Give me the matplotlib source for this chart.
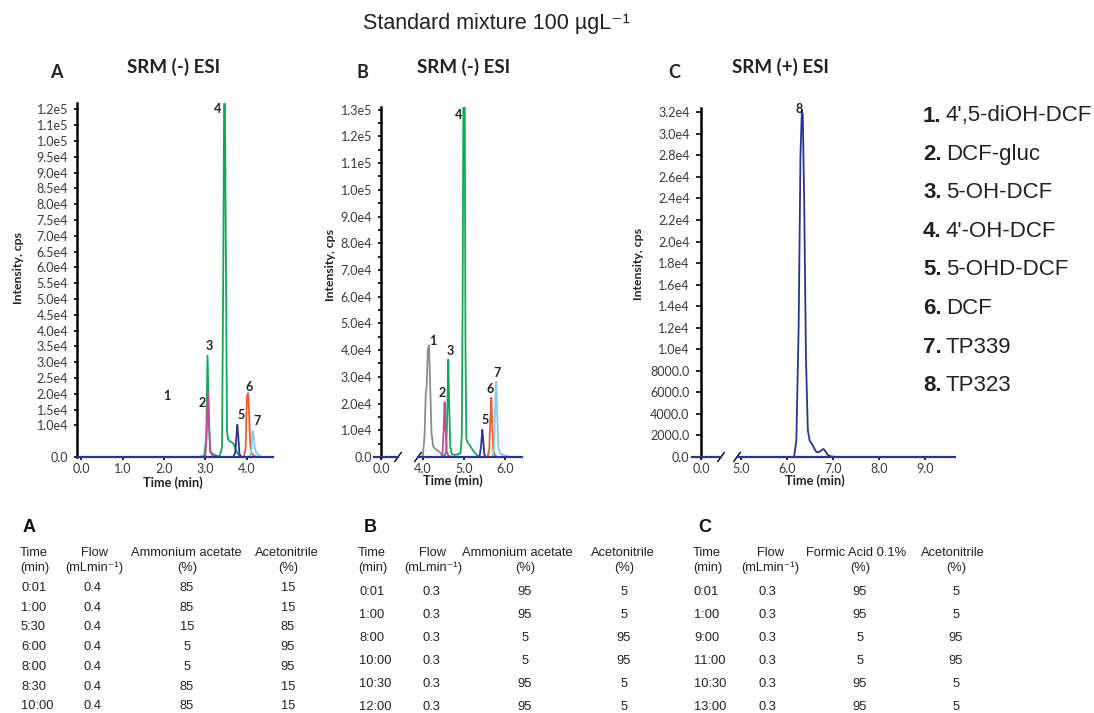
import matplotlib
matplotlib.use("Agg")
import matplotlib.pyplot as plt
from matplotlib.ticker import FixedLocator

# ---------------- data ----------------
# Panel A chromatogram (time in min, intensity in axis units)
A_t2 = [2.93, 3.00, 3.03, 3.06, 3.09, 3.12, 3.17, 3.23]
A_i2 = [0, 300, 8000, 20500, 9000, 1500, 500, 0]
A_t34 = [2.83, 2.97, 3.02, 3.05, 3.08, 3.11, 3.15, 3.21, 3.27, 3.34, 3.40, 3.43,
         3.45, 3.47, 3.49, 3.52, 3.55, 3.59, 3.63, 3.68, 3.72, 3.77, 3.83, 3.91]
A_i34 = [0, 300, 6000, 32000, 14000, 2000, 1200, 800, 400, 200, 3000, 60000,
         111700, 111700, 70000, 8000, 5500, 5000, 4700, 4200, 2800, 1200, 300, 0]
A_t5 = [3.67, 3.72, 3.75, 3.77, 3.79, 3.82, 3.86]
A_i5 = [0, 1500, 7000, 10200, 7000, 1000, 0]
A_t6 = [3.93, 3.97, 4.00, 4.03, 4.05, 4.08, 4.11, 4.17, 4.23]
A_i6 = [0, 3000, 19000, 20200, 15000, 4000, 1200, 400, 0]
A_t7 = [4.07, 4.11, 4.14, 4.16, 4.19, 4.23, 4.29, 4.37]
A_i7 = [0, 2500, 8300, 7000, 3000, 1200, 400, 0]
A_yticks = [0, 10000, 15000, 20000, 25000, 30000, 35000, 40000, 45000, 50000,
            55000, 60000, 65000, 70000, 75000, 80000, 85000, 90000, 95000,
            100000, 105000, 110000]
A_ylabels = ["0.0", "1.0e4", "1.5e4", "2.0e4", "2.5e4", "3.0e4", "3.5e4", "4.0e4",
             "4.5e4", "5.0e4", "5.5e4", "6.0e4", "6.5e4", "7.0e4", "7.5e4", "8.0e4",
             "8.5e4", "9.0e4", "9.5e4", "1.0e5", "1.1e5", "1.2e5"]
A_xticks = [0, 1, 2, 3, 4]
A_peak_ids = ["1", "2", "3", "4", "5", "6", "7"]
A_lab_t = [2.07, 2.92, 3.09, 3.30, 3.87, 4.06, 4.25]
A_lab_i = [19200, 17000, 35000, 110000, 13300, 22100, 11400]

# Panel B chromatogram
B_t1 = [3.95, 4.00, 4.04, 4.07, 4.09, 4.12, 4.15, 4.18, 4.21, 4.25, 4.30, 4.38, 4.46, 4.55]
B_i1 = [0, 500, 8000, 24000, 26000, 40000, 41800, 25000, 9000, 4000, 3000, 2200, 1000, 0]
B_t2 = [4.44, 4.48, 4.51, 4.53, 4.55, 4.58, 4.62, 4.70]
B_i2 = [0, 1500, 12000, 20500, 11000, 2000, 500, 0]
B_t34 = [4.52, 4.57, 4.60, 4.62, 4.64, 4.67, 4.71, 4.78, 4.86, 4.92, 4.95, 4.97,
         4.99, 5.02, 5.04, 5.06, 5.09, 5.14, 5.20, 5.27, 5.34, 5.42]
B_i34 = [0, 2000, 20000, 36500, 20000, 3500, 1000, 800, 1000, 1500, 8000, 60000,
         140000, 140000, 40000, 7000, 5500, 4500, 3000, 1500, 400, 0]
B_t5 = [5.38, 5.42, 5.45, 5.47, 5.50, 5.54]
B_i5 = [0, 4000, 10200, 7000, 1000, 0]
B_t6 = [5.58, 5.62, 5.65, 5.67, 5.69, 5.72, 5.76, 5.82]
B_i6 = [0, 3000, 15000, 22200, 14000, 2500, 500, 0]
B_t7 = [5.70, 5.74, 5.77, 5.79, 5.81, 5.84, 5.88, 5.95, 6.05, 6.12]
B_i7 = [0, 3500, 22000, 28200, 18000, 4000, 1500, 800, 400, 0]
B_yticks = [0, 10000, 20000, 30000, 40000, 50000, 60000, 70000, 80000, 90000,
            100000, 110000, 120000, 130000]
B_ylabels = ["0.0", "1.0e4", "2.0e4", "3.0e4", "4.0e4", "5.0e4", "6.0e4", "7.0e4",
             "8.0e4", "9.0e4", "1.0e5", "1.1e5", "1.2e5", "1.3e5"]
B_xticks_left = [0]
B_xticks_right = [4, 5, 6]
B_peak_ids = ["1", "2", "3", "4", "5", "6", "7"]
B_lab_t = [4.24, 4.48, 4.67, 4.87, 5.52, 5.64, 5.81]
B_lab_i = [43500, 23800, 39800, 128000, 13800, 25600, 31600]

# Panel C chromatogram
C_t8 = [4.91, 6.15, 6.20, 6.25, 6.29, 6.32, 6.34, 6.37, 6.41, 6.45, 6.49, 6.54, 6.59,
        6.64, 6.69, 6.74, 6.79, 6.83, 6.88, 6.95, 7.05, 9.65]
C_i8 = [0, 0, 1500, 12000, 28000, 32200, 31800, 24000, 9000, 2500, 1500, 1200, 800,
        450, 450, 600, 750, 550, 200, 60, 0, 0]
C_yticks = [0, 2000, 4000, 6000, 8000, 10000, 12000, 14000, 16000, 18000, 20000,
            22000, 24000, 26000, 28000, 30000, 32000]
C_ylabels = ["0.0", "2000.0", "4000.0", "6000.0", "8000.0", "1.0e4", "1.2e4", "1.4e4",
             "1.6e4", "1.8e4", "2.0e4", "2.2e4", "2.4e4", "2.6e4", "2.8e4", "3.0e4",
             "3.2e4"]
C_xticks_left = [0]
C_xticks_right = [5, 6, 7, 8, 9]
C_peak_ids = ["8"]
C_lab_t = [6.26]
C_lab_i = [32300]

# Compound list
legend_nums = ["1.", "2.", "3.", "4.", "5.", "6.", "7.", "8."]
legend_names = ["4',5-diOH-DCF", "DCF-gluc", "5-OH-DCF", "4'-OH-DCF", "5-OHD-DCF",
                "DCF", "TP339", "TP323"]

# Gradient tables
tabA_time = ["0:01", "1:00", "5:30", "6:00", "8:00", "8:30", "10:00"]
tabA_flow = ["0.4", "0.4", "0.4", "0.4", "0.4", "0.4", "0.4"]
tabA_aq = ["85", "85", "15", "5", "5", "85", "85"]
tabA_acn = ["15", "15", "85", "95", "95", "15", "15"]
tabA_head = ["Ammonium acetate", "Acetonitrile"]

tabB_time = ["0:01", "1:00", "8:00", "10:00", "10:30", "12:00"]
tabB_flow = ["0.3", "0.3", "0.3", "0.3", "0.3", "0.3"]
tabB_aq = ["95", "95", "5", "5", "95", "95"]
tabB_acn = ["5", "5", "95", "95", "5", "5"]
tabB_head = ["Ammonium acetate", "Acetonitrile"]

tabC_time = ["0:01", "1:00", "9:00", "11:00", "10:30", "13:00"]
tabC_flow = ["0.3", "0.3", "0.3", "0.3", "0.3", "0.3"]
tabC_aq = ["95", "95", "5", "5", "95", "95"]
tabC_acn = ["5", "5", "95", "95", "5", "5"]
tabC_head = ["Formic Acid 0.1%", "Acetonitrile"]

# ---------------- style ----------------
GREEN = '#12a85a'
MAG = '#c8489e'
NAVY = '#2b3590'
ORANGE = '#f15a29'
LBLUE = '#7fcdf0'
GRAY = '#8c8c8c'
TICKC = '#3a3a3a'
TXT = '#222222'
CHART_FONT = 'Lato'
TAB_FONT = ['Liberation Sans', 'DejaVu Sans']
LW = 1.3
TICK_FS = 9

W, H = 1094, 713
fig = plt.figure(figsize=(W / 100, H / 100), dpi=100)


def fx(x):
    return x / W


def fy(y):
    return 1 - y / H


def rect(l, t, r, b):
    return [l / W, 1 - b / H, (r - l) / W, (b - t) / H]


def style_axis(ax, show_left=True, ypad=4):
    for s in ['top', 'right']:
        ax.spines[s].set_visible(False)
    ax.spines['bottom'].set_color(NAVY)
    ax.spines['bottom'].set_linewidth(1.6)
    ax.tick_params(axis='both', which='both', direction='out', length=2.5, width=1.2,
                   color='black', labelsize=TICK_FS, labelcolor=TICKC)
    ax.tick_params(axis='x', pad=2)
    ax.tick_params(axis='y', pad=ypad)
    if show_left:
        ax.spines['left'].set_color('black')
        ax.spines['left'].set_linewidth(1.8)
    else:
        ax.spines['left'].set_visible(False)
        ax.tick_params(axis='y', which='both', left=False, labelleft=False)
    ax.set_facecolor('none')


def tick_fonts(ax):
    for lab in ax.get_xticklabels() + ax.get_yticklabels():
        lab.set_fontfamily(CHART_FONT)
        lab.set_fontsize(TICK_FS)
        lab.set_color(TICKC)


def peak_labels(ax, ids, ts, ys):
    for s, t, y in zip(ids, ts, ys):
        ax.text(t, y, s, ha='center', va='center', fontsize=9, fontweight='bold',
                family=CHART_FONT, color=TXT, clip_on=False)


fmt1 = lambda v: f"{v:.1f}"

# ---------------- Panel A ----------------
axA = fig.add_axes(rect(77, 103, 273, 457))
axA.plot(A_t34, A_i34, color=GREEN, lw=LW)
axA.plot(A_t2, A_i2, color=MAG, lw=LW)
axA.plot(A_t5, A_i5, color=NAVY, lw=LW)
axA.plot(A_t6, A_i6, color=ORANGE, lw=LW)
axA.plot(A_t7, A_i7, color=LBLUE, lw=LW)
axA.set_xlim(-0.1, 4.63)
axA.set_ylim(0, 112000)
axA.set_yticks(A_yticks, A_ylabels)
axA.set_xticks(A_xticks, [fmt1(v) for v in A_xticks])
style_axis(axA)
tick_fonts(axA)
peak_labels(axA, A_peak_ids, A_lab_t, A_lab_i)

# ---------------- Panel B ----------------
axB0 = fig.add_axes(rect(374, 107, 398, 457))
axB1 = fig.add_axes(rect(418, 107, 522, 457), sharey=axB0)
for t, i, c in [(B_t1, B_i1, GRAY), (B_t34, B_i34, GREEN), (B_t2, B_i2, MAG),
                (B_t5, B_i5, NAVY), (B_t6, B_i6, ORANGE), (B_t7, B_i7, LBLUE)]:
    axB1.plot(t, i, color=c, lw=LW)
axB0.set_xlim(-0.17, 0.41)
axB1.set_xlim(3.88, 6.42)
axB0.set_ylim(0, 131000)
axB0.set_yticks(B_yticks, B_ylabels)
axB0.yaxis.set_minor_locator(FixedLocator([v + 5000 for v in B_yticks[:-1]]))
axB0.set_xticks(B_xticks_left, [fmt1(v) for v in B_xticks_left])
axB1.set_xticks(B_xticks_right, [fmt1(v) for v in B_xticks_right])
style_axis(axB0)
axB0.spines['left'].set_position(('data', 0))
style_axis(axB1, show_left=False)
tick_fonts(axB0)
tick_fonts(axB1)
peak_labels(axB1, B_peak_ids, B_lab_t, B_lab_i)

# ---------------- Panel C ----------------
axC0 = fig.add_axes(rect(692, 108, 721, 457))
axC1 = fig.add_axes(rect(737, 108, 955, 457), sharey=axC0)
axC1.plot(C_t8, C_i8, color=NAVY, lw=LW)
axC0.set_xlim(-0.2, 0.42)
axC1.set_xlim(4.91, 9.65)
axC0.set_ylim(0, 32400)
axC0.set_yticks(C_yticks, C_ylabels)
axC0.set_xticks(C_xticks_left, [fmt1(v) for v in C_xticks_left])
axC1.set_xticks(C_xticks_right, [fmt1(v) for v in C_xticks_right])
style_axis(axC0, ypad=5)
axC0.spines['left'].set_position(('data', 0))
axC0.tick_params(axis='y', length=3.5)
style_axis(axC1, show_left=False)
tick_fonts(axC0)
tick_fonts(axC1)
peak_labels(axC1, C_peak_ids, C_lab_t, C_lab_i)

# break marks
for ax, xa in [(axB0, 1.0), (axB1, 0.0), (axC0, 1.0), (axC1, 0.0)]:
    bb = ax.get_position()
    dw = 3.2 / (bb.width * W)
    dh = 4.5 / (bb.height * H)
    ax.plot([xa - dw, xa + dw], [-dh, dh], transform=ax.transAxes, color='black',
            lw=1.0, clip_on=False)

# ---------------- texts around charts ----------------
fig.text(fx(496), fy(24), "Standard mixture 100 µgL⁻¹", ha='center', va='center',
         fontsize=15.5, family=TAB_FONT, color=TXT)

for letter, lx, title, tx in [("A", 56, "SRM (-) ESI", 174), ("B", 362, "SRM (-) ESI", 464),
                              ("C", 674, "SRM (+) ESI", 780)]:
    fig.text(fx(lx), fy(72), letter, ha='center', va='center', fontsize=13,
             fontweight='bold', family=CHART_FONT, color=TXT)
    fig.text(fx(tx), fy(67), title, ha='center', va='center', fontsize=13.5,
             fontweight='bold', family=CHART_FONT, color=TXT)

for xl, yl in [(18, 268), (331, 265), (639, 264)]:
    fig.text(fx(xl), fy(yl), "Intensity, cps", rotation=90, ha='center', va='center',
             fontsize=8.8, fontweight='bold', family=CHART_FONT, color=TXT)
for xl, yl in [(173, 483), (453, 481), (815, 481)]:
    fig.text(fx(xl), fy(yl), "Time (min)", ha='center', va='center', fontsize=9.2,
             fontweight='bold', family=CHART_FONT, color=TXT)

# compound list
for k, (num, name) in enumerate(zip(legend_nums, legend_names)):
    y = 116 + k * 38.5
    fig.text(fx(923), fy(y), num, ha='left', va='center', fontsize=16,
             fontweight='bold', family=TAB_FONT, color=TXT)
    fig.text(fx(946), fy(y), name, ha='left', va='center', fontsize=16,
             family=TAB_FONT, color=TXT)


# ---------------- gradient tables ----------------
def draw_table(letter, lx, time_x, flow_x, aq_x, acn_x, head_x, heads,
               times, flows, aqs, acns, row0, drow):
    kw = dict(fontsize=9.3, family=TAB_FONT, color=TXT, va='center')
    fig.text(fx(lx), fy(528), letter, ha='center', fontsize=13, fontweight='bold',
             family=TAB_FONT, color='#111111', va='center')
    fig.text(fx(time_x), fy(553), "Time", ha='left', **kw)
    fig.text(fx(time_x), fy(568), "(min)", ha='left', **kw)
    fig.text(fx(head_x[0]), fy(553), "Flow", ha='center', **kw)
    fig.text(fx(head_x[0]), fy(568), "(mLmin⁻¹)", ha='center', **kw)
    fig.text(fx(head_x[1]), fy(553), heads[0], ha='center', **kw)
    fig.text(fx(aq_x), fy(568), "(%)", ha='center', **kw)
    fig.text(fx(head_x[2]), fy(553), heads[1], ha='center', **kw)
    fig.text(fx(acn_x), fy(568), "(%)", ha='center', **kw)
    for r, (tt, fl, aq, ac) in enumerate(zip(times, flows, aqs, acns)):
        y = row0 + r * drow
        fig.text(fx(time_x + 1), fy(y), tt, ha='left', **kw)
        fig.text(fx(flow_x), fy(y), fl, ha='center', **kw)
        fig.text(fx(aq_x), fy(y), aq, ha='center', **kw)
        fig.text(fx(acn_x), fy(y), ac, ha='center', **kw)


draw_table("A", 29, 20, 92, 187, 288, [94, 186, 287], tabA_head,
           tabA_time, tabA_flow, tabA_aq, tabA_acn, 588, 19.7)
draw_table("B", 370, 358, 431, 525, 624, [433, 517, 623], tabB_head,
           tabB_time, tabB_flow, tabB_aq, tabB_acn, 592, 23)
draw_table("C", 705, 693, 767, 860, 956, [770, 856, 953], tabC_head,
           tabC_time, tabC_flow, tabC_aq, tabC_acn, 592, 23)

fig.savefig("out.png", dpi=100)
